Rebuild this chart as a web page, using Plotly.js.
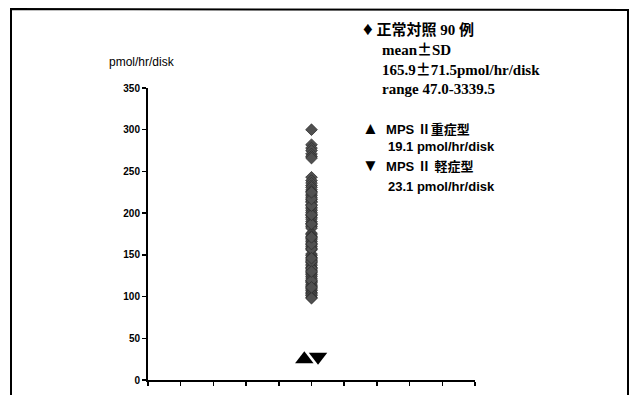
<!DOCTYPE html>
<html>
<head>
<meta charset="utf-8">
<script src="https://cdn.plot.ly/plotly-3.0.1.min.js"></script>
<style>html,body{margin:0;padding:0;background:#fff;}#chart{width:633px;height:395px;}</style>
</head>
<body>
<div id="chart"></div>
<script>
// Normal controls (90 cases), pmol/hr/disk
const controlX = 5;
const controlValues = [
  300,
  282, 278, 275, 271, 268, 266,
  243, 239, 236, 233, 231, 228, 226, 223, 221, 219, 216, 214, 213, 210,
  207, 205, 203, 201, 199, 197, 195, 193, 190, 188, 186, 184, 182, 176,
  174, 172, 170, 168, 166, 164, 162, 160, 158, 156, 151, 149, 147, 145,
  143, 141, 139, 137, 135, 133, 131, 129, 127, 126, 124, 122, 120, 118,
  117, 115, 113, 112, 110, 108, 107, 105, 104, 102, 101, 99, 98, 157,
  163, 171, 187, 198, 209, 217, 225, 134, 142, 119, 130, 111, 146
];
// MPS II patients
const severeX = [4.78];
const severeValues = [25];
const mildX = [5.2];
const mildValues = [28];

const yTicks = [0, 50, 100, 150, 200, 250, 300, 350];
const xTicks = [0, 1, 2, 3, 4, 5, 6, 7, 8, 9, 10];

const L = 148, R = 475, T = 88, B = 380;
const px = x => (x - L) / (R - L);
const py = y => (B - y) / (B - T);

const serif = "'Liberation Serif', 'Times New Roman', 'Noto Sans CJK JP', serif";
const sans = "'Liberation Sans', Arial, 'Noto Sans CJK JP', sans-serif";
const cjk = "'Noto Sans CJK JP', sans-serif";
const pm = `<span style="font-family:${cjk}">±</span>`;

const traces = [
  {x: controlValues.map(() => controlX), y: controlValues, mode: 'markers', type: 'scatter',
   marker: {symbol: 'diamond', size: 9, color: '#505050', line: {color: '#2e2e2e', width: 0.8}},
   cliponaxis: false, hoverinfo: 'y'},
  {x: severeX, y: severeValues, mode: 'markers', type: 'scatter',
   marker: {symbol: 'triangle-up', size: 16, color: '#000000'}, cliponaxis: false},
  {x: mildX, y: mildValues, mode: 'markers', type: 'scatter',
   marker: {symbol: 'triangle-down', size: 16, color: '#000000'}, cliponaxis: false}
];

function ann(text, x, y, font) {
  return {text: text, xref: 'paper', yref: 'paper', x: px(x), y: py(y),
          xanchor: 'left', yanchor: 'middle', align: 'left', showarrow: false,
          borderpad: 0, font: font};
}
const f1 = {family: serif, size: 15, color: '#000'};
const f2 = {family: sans, size: 13, color: '#000'};

const layout = {
  width: 633, height: 395,
  margin: {l: L, r: 633 - R, t: T, b: 395 - B},
  paper_bgcolor: '#fff', plot_bgcolor: '#fff',
  showlegend: false,
  xaxis: {range: [0, 10], tickvals: xTicks, showticklabels: false, ticks: 'outside', ticklen: 4,
          tickwidth: 1.5, tickcolor: '#000', showline: true, linecolor: '#000', linewidth: 2,
          showgrid: false, zeroline: false, fixedrange: true},
  yaxis: {range: [0, 350], tickvals: yTicks, ticks: 'outside', ticklen: 4, tickwidth: 1.5,
          tickcolor: '#000', showline: true, linecolor: '#000', linewidth: 2, showgrid: false,
          zeroline: false, tickfont: {family: sans, size: 10, color: '#000', weight: 'bold'},
          fixedrange: true},
  annotations: [
    ann('pmol/hr/disk', 108, 62, {family: sans, size: 12, color: '#000'}),
    ann('<b><span style="font-size:19px">♦</span> 正常対照 90 例</b>', 362, 28, f1),
    ann(`<b>mean${pm}SD<br>165.9${pm}71.5pmol/hr/disk<br>range 47.0-3339.5</b>`, 381, 67, f1),
    ann('<b><span style="font-size:17px">▲</span>  MPS Ⅱ重症型</b>', 361, 128, f2),
    ann('<b>19.1 pmol/hr/disk</b>', 387, 146, f2),
    ann('<b><span style="font-size:17px">▼</span>  MPS Ⅱ 軽症型</b>', 361, 165, f2),
    ann('<b>23.1 pmol/hr/disk</b>', 387, 186, f2)
  ],
  shapes: [
    {type: 'path', xref: 'paper', yref: 'paper',
     path: `M ${px(11)},${py(396)} L ${px(11)},${py(9)} L ${px(628)},${py(10)} L ${px(628)},${py(396)}`,
     line: {color: '#000', width: 2}}
  ]
};

Plotly.newPlot('chart', traces, layout, {staticPlot: true, displayModeBar: false});
</script>
</body>
</html>
